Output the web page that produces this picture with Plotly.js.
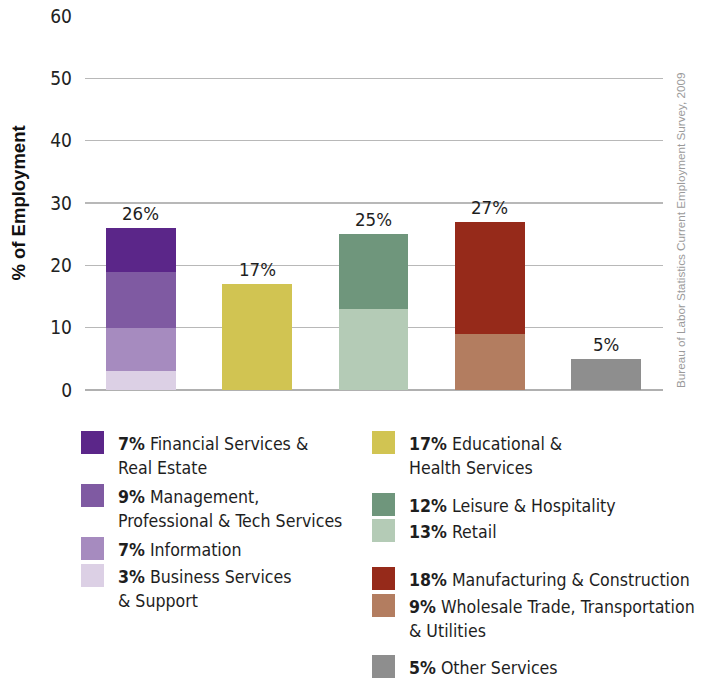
<!DOCTYPE html>
<html>
<head>
<meta charset="utf-8">
<script src="https://cdn.plot.ly/plotly-3.0.1.min.js"></script>
<style>
  html, body { margin: 0; padding: 0; background: #ffffff; }
  #chart { width: 701px; height: 679px; }
</style>
</head>
<body>
<div id="chart"></div>
<script>
// ---------------- DATA ----------------
const categories = [
  'Finance, Management, Information & Business',
  'Education & Health',
  'Leisure, Hospitality & Retail',
  'Manufacturing, Construction & Trade',
  'Other Services'
];
// series listed in stacking order (bottom to top within each bar)
const seriesCategory = [0, 0, 0, 0, 1, 2, 2, 3, 3, 4];
const seriesValues   = [3, 7, 9, 7, 17, 13, 12, 9, 18, 5];
const seriesLabels   = [
  'Business Services|& Support',
  'Information',
  'Management,|Professional & Tech Services',
  'Financial Services &|Real Estate',
  'Educational &|Health Services',
  'Retail',
  'Leisure & Hospitality',
  'Wholesale Trade, Transportation|& Utilities',
  'Manufacturing & Construction',
  'Other Services'
];
const barTotals = [26, 17, 25, 27, 5];
const yTickValues = [0, 10, 20, 30, 40, 50, 60];
const yTitle = '% of Employment';
const sourceNote = 'Bureau of Labor Statistics Current Employment Survey, 2009';

// ---------------- STYLE ----------------
const seriesColors = ['#dcd0e5', '#a68bbf', '#7f5aa2', '#5b2689', '#d1c452',
                      '#b4cbb6', '#6f967c', '#b37d60', '#962a1a', '#8e8e8e'];
const NARROW = "'DejaVu Sans Condensed', 'Liberation Sans Narrow', sans-serif";
const REG = "'Liberation Sans', Arial, sans-serif";
const TXT = '#1e1e1e';

// plot-area geometry (pixels)
const W = 701, H = 679;
const M = { l: 85, r: 38, t: 16, b: 289 };
const PW = W - M.l - M.r, PH = H - M.t - M.b;
const px2x = px => (px - M.l) / PW;
const px2y = py => (H - M.b - py) / PH;

// legend layout: series index, column left px, square top px
const legendLayout = [
  { s: 3, col: 81, top: 431 },
  { s: 2, col: 81, top: 484 },
  { s: 1, col: 81, top: 537 },
  { s: 0, col: 81, top: 564 },
  { s: 4, col: 372, top: 431 },
  { s: 6, col: 372, top: 493 },
  { s: 5, col: 372, top: 519 },
  { s: 8, col: 372, top: 567 },
  { s: 7, col: 372, top: 594 },
  { s: 9, col: 372, top: 655 }
];
const SQ = 23, TEXT_GAP = 13, LINE_H = 24;

// ---------------- TRACES ----------------
const traces = seriesValues.map((v, i) => ({
  type: 'bar',
  x: [categories[seriesCategory[i]]],
  y: [v],
  name: seriesLabels[i].replace('|', ' '),
  marker: { color: seriesColors[i], line: { width: 0 } },
  width: 0.6,
  showlegend: false,
  hovertemplate: seriesValues[i] + '% ' + seriesLabels[i].replace('|', ' ') + '<extra></extra>'
}));

// ---------------- ANNOTATIONS & SHAPES ----------------
const annotations = [];
const shapes = [];

barTotals.forEach((t, i) => {
  annotations.push({
    xref: 'x', yref: 'y', x: categories[i], y: t,
    text: t + '%', showarrow: false, xanchor: 'center', yanchor: 'bottom', yshift: 2,
    font: { family: NARROW, size: 18.5, color: TXT }
  });
});

annotations.push({
  xref: 'paper', yref: 'paper', x: px2x(680), y: px2y(230),
  text: sourceNote, textangle: -90, showarrow: false,
  xanchor: 'center', yanchor: 'middle',
  font: { family: REG, size: 11.7, color: '#9a9a9a' }
});

legendLayout.forEach(e => {
  const i = e.s;
  shapes.push({
    type: 'rect', xref: 'paper', yref: 'paper', layer: 'above',
    x0: px2x(e.col), x1: px2x(e.col + SQ),
    y0: px2y(e.top), y1: px2y(e.top + SQ),
    fillcolor: seriesColors[i], line: { width: 0 }
  });
  const lines = seriesLabels[i].split('|');
  lines.forEach((ln, k) => {
    const txt = (k === 0 ? '<b>' + seriesValues[i] + '%</b> ' : '') + ln;
    annotations.push({
      xref: 'paper', yref: 'paper',
      x: px2x(e.col + SQ + TEXT_GAP - 1), y: px2y(e.top + SQ / 2 + 1.5 + k * LINE_H),
      text: txt, showarrow: false, xanchor: 'left', yanchor: 'middle',
      font: { family: NARROW, size: 17.6, color: TXT }
    });
  });
});

// ---------------- LAYOUT ----------------
const layout = {
  width: W, height: H,
  margin: M,
  paper_bgcolor: '#ffffff', plot_bgcolor: '#ffffff',
  barmode: 'stack',
  showlegend: false,
  xaxis: {
    type: 'category',
    categoryorder: 'array', categoryarray: categories,
    range: [-0.48, 4.49],
    showticklabels: false, showgrid: false, zeroline: false, showline: false, ticks: ''
  },
  yaxis: {
    range: [0, 60], tickvals: yTickValues,
    showgrid: true, gridcolor: '#b8b8b8', gridwidth: 1.5,
    zeroline: true, zerolinecolor: '#b0b0b0', zerolinewidth: 1.5,
    showline: false, ticks: '', ticklabelstandoff: 12,
    tickfont: { family: NARROW, size: 19, color: '#222222' },
    title: { text: '<b>' + yTitle + '</b>', standoff: 19,
             font: { family: REG, size: 18.5, color: '#111111' } }
  },
  annotations: annotations,
  shapes: shapes,
  font: { family: NARROW }
};

Plotly.newPlot('chart', traces, layout, { displayModeBar: false, staticPlot: true });
</script>
</body>
</html>
